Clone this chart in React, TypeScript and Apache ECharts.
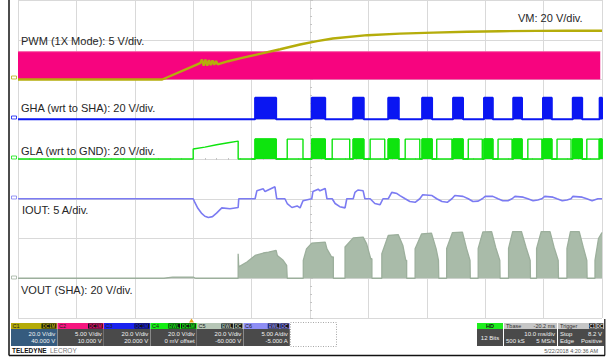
import React, { useEffect, useRef } from "react";
import * as echarts from "echarts";

// ---- time base: ms, 10 ms/div, 10 divisions; 8 vertical divisions ----
const timeMin = -30;
const timeMax = 70;
const timeDiv = 10;
const vertDivs = 8;

// per-channel scale (units/div) and ground level (divisions above bottom)
const vmScale = 20;
const vmGround = 6;
const pwmScale = 5;
const pwmGround = 6;
const ghaScale = 20;
const ghaGround = 5;
const glaScale = 20;
const glaGround = 4;
const voutScale = 20;
const voutGround = 1;
const ioutScale = 5;
const ioutGround = 3;

// PWM (V) – high-frequency square, shown as a band
const pwmBand: number[][] = [[-30, 3.5], [69.7, 3.5]];

// VM (V)
const vmTrace: number[][] = [
  [-30, 0], [-5.3, 0], [1.2, 8.2], [1.5, 10.0], [1.8, 6.9], [2.1, 10.0], [2.4, 7.0],
  [2.7, 9.8], [3.0, 7.2], [3.3, 9.6], [3.6, 7.4], [3.9, 9.3], [4.2, 7.6], [4.6, 8.0],
  [6.0, 9.2], [8.0, 10.6], [11.4, 12.9],
  [14.9, 15.2], [18.3, 17.6], [21.2, 19.3], [23.9, 20.6], [29.8, 22.3],
  [35.4, 23.1], [41.1, 23.6], [46.9, 24.0], [52.5, 24.3], [64.0, 24.6], [70, 24.5],
];

// GHA gate pulses (ms spans) and level (V)
const ghaPulses: number[][] = [
  [10.6, 14.2], [20.3, 22.6], [27.4, 29.2], [33.4, 35.2], [39.2, 40.9],
  [44.5, 46.2], [49.8, 51.3], [54.8, 56.3], [59.9, 61.4], [65.0, 66.6], [69.6, 70],
];
const ghaLevel = 10.8;

// GLA (V): initial ramp, high spans (outline) and chopped blocks (= GHA spans)
const glaRamp: number[][] = [[0, 0], [0, 5], [2, 6], [4, 7.2], [6, 8.2], [7.7, 9], [7.7, 0]];
const glaHighSpans: number[][] = [
  [16.1, 18.8], [23.8, 26.8], [30.3, 32.8], [36.3, 38.8], [41.7, 44.3],
  [47.1, 49.5], [52.2, 54.6], [57.3, 59.7], [62.3, 64.7], [67.4, 69.5],
];
const glaLevel = 10;

// IOUT (A)
const ioutTrace: number[][] = [
  [-30, 0], [0, 0], [0.3, -0.5], [0.8, -1.2], [1.4, -1.8], [2.0, -2.2], [2.6, -2.35],
  [3.3, -2.25], [4.0, -1.8], [4.9, -1.15], [6.3, -1.25], [7.7, -1.1], [7.8, 0],
  [10.6, 0], [10.9, 1.0], [12.0, 1.25], [12.3, 0.9], [14.0, 1.5], [14.3, 0],
  [15.7, 0], [16.1, -0.6], [16.9, -1.1], [17.8, -0.9], [18.3, -1.15], [18.8, -0.25],
  [20.3, 0], [20.5, 0.9], [21.4, 1.2], [21.7, 1.0], [22.6, 1.3], [22.9, 0],
  [23.8, 0], [24.3, -0.6], [25.1, -1.0], [26.0, -1.15], [26.3, 0], [27.4, 0],
  [27.7, 0.8], [28.2, 1.1], [29.1, 1.0], [29.4, 0], [30.3, 0], [31.1, -0.6],
  [32.0, -0.75], [32.5, 0], [33.4, 0], [34.0, 0.8], [34.9, 0.65], [35.4, 0.4],
  [36.3, 0], [37.1, -0.35], [38.0, -0.45], [38.8, 0], [39.3, 0.5], [40.9, 0.4],
  [41.7, 0], [42.6, -0.35], [43.5, -0.45], [44.3, 0], [44.8, 0.4], [46.2, 0.3],
  [47.1, 0], [47.9, -0.35], [48.8, -0.3], [49.5, 0], [50.0, 0.3], [51.3, 0.3],
  [52.2, 0], [53.0, -0.25], [53.9, -0.25], [54.6, 0], [55.1, 0.3], [56.5, 0.2],
  [57.3, 0], [58.2, -0.25], [59.0, -0.15], [59.7, 0], [60.2, 0.3], [61.6, 0.2],
  [62.3, 0], [63.2, -0.25], [64.0, -0.15], [64.7, 0], [65.0, 0.3], [66.6, 0.2],
  [67.4, 0], [68.3, -0.25], [69.3, 0], [70, 0],
];

// VOUT (V): small pre-bump and switching blocks
const voutPre: number[][] = [[-30, 0], [-5, 0], [-3.5, 0.6], [0, 0.6], [0.4, 0]];
const voutBlocks: number[][][] = [
  [[7.7, 12.3], [7.8, 5.7], [9.2, 8.2], [10.6, 11.5], [12.0, 12.7], [12.9, 13.2], [14.2, 14], [14.4, 11.5], [15.4, 9], [16.0, 6.5], [16.1, 6.5]],
  [[18.85, 9], [19.4, 14.8], [20.3, 17.7], [22.6, 18.2], [22.9, 14.8], [23.7, 10.7], [24.0, 10.7]],
  [[26.0, 15.7], [27.4, 20.3], [29.1, 20.7], [29.7, 17.3], [30.4, 9.8], [30.6, 9.8]],
  [[32.3, 12.3], [33.4, 21.5], [35.1, 22], [35.9, 16.5], [36.4, 9], [36.55, 9]],
  [[38.0, 14.8], [39.1, 22.3], [40.8, 22.7], [41.6, 14.8], [42.0, 9], [42.05, 9]],
  [[43.4, 15], [44.4, 23], [46.1, 23.2], [46.8, 15], [47.4, 9], [47.45, 9]],
  [[48.8, 15], [49.6, 23.3], [51.1, 23.4], [51.8, 15.5], [52.5, 9], [52.55, 9]],
  [[54.0, 15], [54.7, 23.5], [56.2, 23.5], [57.0, 15.5], [57.7, 9], [57.75, 9]],
  [[58.8, 15], [59.6, 23.5], [61.1, 23.5], [61.8, 15.5], [62.5, 9], [62.55, 9]],
  [[64.0, 15], [64.6, 23.5], [66.1, 23.5], [66.8, 15.5], [67.4, 9], [67.45, 9]],
  [[68.8, 9], [69.4, 20], [70, 23]],
];

// trace labels
const traceLabels = [
  { text: "PWM (1X Mode): 5 V/div.", x: 21, y: 41 },
  { text: "VM: 20 V/div.", x: 518, y: 18 },
  { text: "GHA (wrt to SHA): 20 V/div.", x: 21, y: 108 },
  { text: "GLA (wrt to GND): 20 V/div.", x: 21, y: 151 },
  { text: "IOUT: 5 A/div.", x: 22, y: 210 },
  { text: "VOUT (SHA): 20 V/div.", x: 21, y: 290 },
];

// channel descriptor boxes
const chanBoxes = [
  { name: "C1", head: "#B4AB08", body: "#355B7E", tags: ["DC1M"], l1: "20.0 V/div", l2: "40.000 V" },
  { name: "C2", head: "#F5167F", body: "#4A4A4A", tags: ["DC1M"], l1: "5.00 V/div", l2: "10.000 V" },
  { name: "C3", head: "#1A22EE", body: "#4A4A4A", tags: ["DC1M"], l1: "20.0 V/div", l2: "20.000 V" },
  { name: "C4", head: "#14EE14", body: "#4A4A4A", tags: ["BWL", "DC1M"], l1: "20.0 V/div", l2: "0 mV offset" },
  { name: "C5", head: "#B6C6B6", body: "#4A4A4A", tags: ["BWL", "DC"], l1: "20.0 V/div", l2: "-60.000 V" },
  { name: "C6", head: "#8E8EF4", body: "#4A4A4A", tags: ["BWL", "DC"], l1: "5.00 A/div", l2: "-5.000 A" },
];

const cVM = "#B5AD0B";
const cPWM = "#F7047F";
const cGHA = "#0A16F2";
const cGLA = "#0EE40E";
const cIOUT = "#7B7BF2";
const cVOUT = "#A9BBA9";
const cVOUTLine = "#9CAF9C";

const FONT = '"Liberation Sans", Arial, Helvetica, sans-serif';

// grid geometry
const gLeft = 18;
const gTop = -2;
const gWidth = 584;
const gHeight = 320;

function chanAxis(scale: number, ground: number) {
  return {
    type: "value" as const,
    min: -ground * scale,
    max: (vertDivs - ground) * scale,
    show: false,
    splitLine: { show: false },
    axisLine: { show: false },
    axisTick: { show: false },
    axisLabel: { show: false },
  };
}

function stepData(spans: number[][], level: number, t0: number, t1: number) {
  const d: number[][] = [[t0, 0]];
  spans.forEach(([a, b]) => {
    d.push([a, 0], [a, level], [b, level], [b, 0]);
  });
  d.push([t1, 0]);
  return d;
}

function buildGla() {
  const d: number[][] = [[timeMin, 0], ...glaRamp];
  const spans = [...glaHighSpans, ...ghaPulses].sort((p, q) => p[0] - q[0]);
  spans.forEach(([a, b]) => {
    d.push([a, 0], [a, glaLevel], [b, glaLevel], [b, 0]);
  });
  d.push([timeMax, 0]);
  return d;
}

function buildVout() {
  const d: number[][] = [...voutPre];
  voutBlocks.forEach((blk) => {
    d.push([blk[0][0], 0], ...blk);
    const last = blk[blk.length - 1];
    if (last[0] < timeMax) d.push([last[0], 0]);
  });
  const lastBlk = voutBlocks[voutBlocks.length - 1];
  if (lastBlk[lastBlk.length - 1][0] < timeMax) d.push([timeMax, 0]);
  return d;
}

function txt(text: string, x: number, y: number, o: any = {}) {
  return {
    type: "text",
    x,
    y,
    z: 10,
    style: {
      text,
      fill: o.fill || "#222",
      fontSize: o.size || 11,
      fontFamily: FONT,
      fontWeight: o.weight || "normal",
      align: o.align || "left",
      verticalAlign: "middle",
    },
  };
}

function rect(x: number, y: number, w: number, h: number, fill: string, extra: any = {}) {
  return { type: "rect", z: 10, shape: { x, y, width: w, height: h }, style: { fill, ...extra } };
}

function buildPanel() {
  const els: any[] = [];
  const bx = 11;
  const bw = 46.3;
  const hy = 323;
  const hh = 6;
  const by = 329;
  const bh = 17;
  chanBoxes.forEach((c, i) => {
    const x = bx + i * (bw + 0.2);
    els.push(rect(x, hy, bw, hh, c.head));
    els.push(rect(x, by, bw, bh, c.body));
    els.push(txt(c.name, x + 1.5, hy + 3, { size: 5.5, fill: "#202020" }));
    let rx = x + bw - 1;
    for (let k = c.tags.length - 1; k >= 0; k--) {
      const t = c.tags[k];
      const tw = t.length * 3.2 + 2;
      els.push(rect(rx - tw, hy + 0.5, tw, hh - 1, "#111"));
      els.push(txt(t, rx - tw / 2, hy + 3, { size: 4.5, fill: c.head, align: "center", weight: "bold" }));
      rx -= tw + 1;
    }
    els.push(txt(c.l1, x + bw - 2, by + 5, { size: 6, fill: "#F2F2F2", align: "right" }));
    els.push(txt(c.l2, x + bw - 2, by + 12, { size: 6, fill: "#F2F2F2", align: "right" }));
  });
  // empty dotted slot
  els.push({
    type: "rect",
    z: 10,
    shape: { x: 290.5, y: 322.5, width: 46, height: 24 },
    style: { fill: "none", stroke: "#A8A8A8", lineWidth: 1, lineDash: [1, 1.5] },
  });
  // HD box
  els.push(rect(477, hy, 26, hh, "#1EEE1E"));
  els.push(txt("HD", 490, hy + 3, { size: 5.5, fill: "#111", align: "center", weight: "bold" }));
  els.push(rect(477, by, 26, bh, "#4A4A4A"));
  els.push(txt("12 Bits", 490, by + 8.5, { size: 6, fill: "#F2F2F2", align: "center" }));
  // Timebase box
  els.push(rect(504, hy, 53, hh, "#C6C6C6"));
  els.push(txt("Tbase", 506, hy + 3, { size: 5.5, fill: "#303030" }));
  els.push(txt("-20.2 ms", 555, hy + 3, { size: 5.5, fill: "#303030", align: "right" }));
  els.push(rect(504, by, 53, bh, "#4A4A4A"));
  els.push(txt("10.0 ms/div", 555, by + 5, { size: 6, fill: "#F2F2F2", align: "right" }));
  els.push(txt("500 kS", 506, by + 12, { size: 6, fill: "#F2F2F2" }));
  els.push(txt("5 MS/s", 555, by + 12, { size: 6, fill: "#F2F2F2", align: "right" }));
  // Trigger box
  els.push(rect(558, hy, 46, hh, "#C6C6C6"));
  els.push(txt("Trigger", 560, hy + 3, { size: 5.5, fill: "#303030" }));
  els.push(rect(589, hy + 0.5, 6.5, hh - 1, "#111"));
  els.push(txt("C1", 592.2, hy + 3, { size: 4.5, fill: "#DDD", align: "center", weight: "bold" }));
  els.push(rect(596.5, hy + 0.5, 6.5, hh - 1, "#111"));
  els.push(txt("DC", 599.7, hy + 3, { size: 4.5, fill: "#DDD", align: "center", weight: "bold" }));
  els.push(rect(558, by, 46, bh, "#4A4A4A"));
  els.push(txt("Stop", 560, by + 5, { size: 6, fill: "#F2F2F2" }));
  els.push(txt("8.2 V", 602, by + 5, { size: 6, fill: "#F2F2F2", align: "right" }));
  els.push(txt("Edge", 560, by + 12, { size: 6, fill: "#F2F2F2" }));
  els.push(txt("Positive", 602, by + 12, { size: 6, fill: "#F2F2F2", align: "right" }));
  // footer texts
  els.push({
    type: "text",
    x: 12,
    y: 350.5,
    z: 10,
    style: {
      text: "{b|TELEDYNE} {n|LECROY}",
      verticalAlign: "middle",
      rich: {
        b: { fontSize: 6.5, fontWeight: "bold", fill: "#111", fontFamily: FONT },
        n: { fontSize: 6.5, fill: "#777", fontFamily: FONT },
      },
    },
  });
  els.push(txt("5/22/2018 4:20:36 AM", 598, 350.5, { size: 5.5, fill: "#555", align: "right" }));
  // frame lines
  els.push({ type: "line", z: 11, shape: { x1: 9, y1: 0, x2: 9, y2: 355.5 }, style: { stroke: "#111", lineWidth: 1.5 } });
  els.push({ type: "line", z: 11, shape: { x1: 9, y1: 355.5, x2: 605, y2: 355.5 }, style: { stroke: "#111", lineWidth: 1.5 } });
  els.push({ type: "line", z: 11, shape: { x1: 604.8, y1: 319, x2: 604.8, y2: 355.5 }, style: { stroke: "#111", lineWidth: 1.2 } });
  // trigger position marker
  els.push({
    type: "polygon",
    z: 11,
    shape: { points: [[191.5, 318.5], [189, 322.5], [194, 322.5]] },
    style: { fill: "#E9A21A" },
  });
  // ground markers
  const grounds = [
    { g: vmGround, c: cVM },
    { g: ghaGround, c: cGHA },
    { g: glaGround, c: cGLA },
    { g: ioutGround, c: cIOUT },
    { g: voutGround, c: "#9FB09F" },
  ];
  grounds.forEach(({ g, c }) => {
    const y = gTop + gHeight * (1 - g / vertDivs);
    els.push({
      type: "rect",
      z: 11,
      shape: { x: 11.5, y: y - 2, width: 5, height: 3 },
      style: { fill: "none", stroke: c, lineWidth: 0.8 },
    });
  });
  traceLabels.forEach((l) => els.push(txt(l.text, l.x, l.y, { size: 11, fill: "#262626" })));
  return els;
}

export default function App() {
  const ref = useRef<HTMLDivElement>(null);
  useEffect(() => {
    document.body.style.margin = "0";
    if (!ref.current) return;
    const chart = echarts.init(ref.current, undefined, { renderer: "svg" });
    const hidden = { show: false };
    const option: any = {
      animation: false,
      backgroundColor: "#FFFFFF",
      grid: { left: gLeft, top: gTop, width: gWidth, height: gHeight, containLabel: false },
      xAxis: [
        {
          type: "value",
          min: timeMin,
          max: timeMax,
          interval: timeDiv,
          axisLine: hidden,
          axisTick: hidden,
          axisLabel: hidden,
          splitLine: { show: true, lineStyle: { color: "#D9D9D9", width: 1 } },
        },
        {
          type: "value",
          min: timeMin,
          max: timeMax,
          interval: timeDiv,
          position: "bottom",
          offset: -gHeight / 2,
          axisLine: hidden,
          axisLabel: hidden,
          splitLine: hidden,
          axisTick: { show: true, length: 3, inside: true, lineStyle: { color: "#C4C4C4" } },
          minorTick: { show: true, splitNumber: 5, length: 2, lineStyle: { color: "#C4C4C4" } },
        },
      ],
      yAxis: [
        {
          type: "value",
          min: 0,
          max: vertDivs,
          interval: 1,
          axisLine: hidden,
          axisTick: hidden,
          axisLabel: hidden,
          splitLine: { show: true, lineStyle: { color: "#D9D9D9", width: 1 } },
        },
        chanAxis(vmScale, vmGround),
        chanAxis(pwmScale, pwmGround),
        chanAxis(ghaScale, ghaGround),
        chanAxis(glaScale, glaGround),
        chanAxis(voutScale, voutGround),
        chanAxis(ioutScale, ioutGround),
        {
          type: "value",
          min: 0,
          max: vertDivs,
          interval: 1,
          position: "left",
          offset: -gWidth / 2,
          axisLine: hidden,
          axisLabel: hidden,
          splitLine: hidden,
          axisTick: { show: true, length: 3, inside: true, lineStyle: { color: "#C4C4C4" } },
          minorTick: { show: true, splitNumber: 5, length: 2, lineStyle: { color: "#C4C4C4" } },
        },
      ],
      series: [
        {
          name: "VOUT",
          type: "line",
          yAxisIndex: 5,
          data: buildVout(),
          symbol: "none",
          lineStyle: { color: cVOUTLine, width: 1.3 },
          areaStyle: { color: cVOUT, opacity: 1 },
        },
        {
          name: "IOUT",
          type: "line",
          yAxisIndex: 6,
          data: ioutTrace,
          symbol: "none",
          lineStyle: { color: cIOUT, width: 1.6 },
        },
        {
          name: "GLA",
          type: "line",
          yAxisIndex: 4,
          data: buildGla(),
          symbol: "none",
          lineStyle: { color: cGLA, width: 1.4 },
        },
        {
          name: "GLA chopped",
          type: "line",
          yAxisIndex: 4,
          data: stepData(ghaPulses, glaLevel, 10, timeMax),
          symbol: "none",
          lineStyle: { color: cGLA, width: 1.6 },
          areaStyle: { color: cGLA, opacity: 1 },
        },
        {
          name: "GHA",
          type: "line",
          yAxisIndex: 3,
          data: stepData(ghaPulses, ghaLevel, timeMin, timeMax),
          symbol: "none",
          lineStyle: { color: cGHA, width: 2 },
          areaStyle: { color: cGHA, opacity: 1 },
        },
        {
          name: "PWM",
          type: "line",
          yAxisIndex: 2,
          data: pwmBand,
          symbol: "none",
          lineStyle: { color: "#F65AA5", width: 1 },
          areaStyle: { color: cPWM, opacity: 1 },
        },
        {
          name: "VM",
          type: "line",
          yAxisIndex: 1,
          data: vmTrace,
          symbol: "none",
          lineStyle: { color: cVM, width: 2.4 },
        },
      ],
      graphic: buildPanel(),
    };
    chart.setOption(option);
    return () => chart.dispose();
  }, []);
  return <div ref={ref} style={{ width: 606, height: 358 }} />;
}
